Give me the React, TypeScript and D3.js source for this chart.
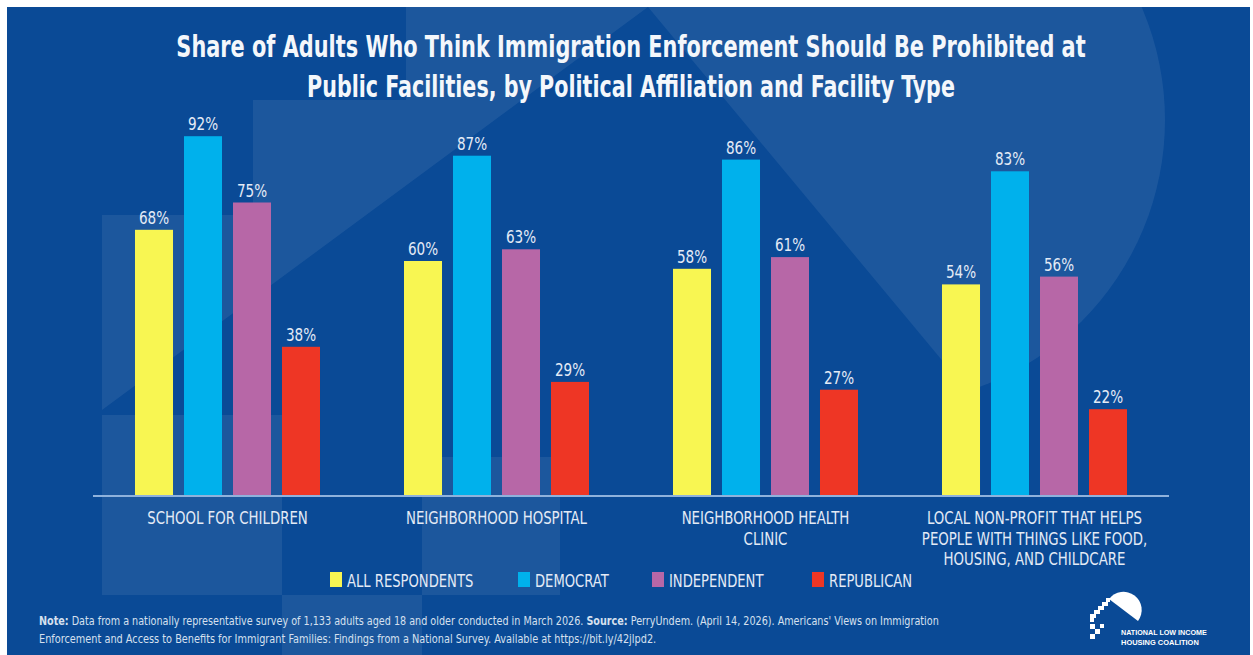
import React, { useLayoutEffect, useRef, useState } from "react";
import * as d3 from "d3";

const categories: string[][] = [
  ["SCHOOL FOR CHILDREN"],
  ["NEIGHBORHOOD HOSPITAL"],
  ["NEIGHBORHOOD HEALTH", "CLINIC"],
  ["LOCAL NON-PROFIT THAT HELPS", "PEOPLE WITH THINGS LIKE FOOD,", "HOUSING, AND CHILDCARE"],
];
const seriesNames = ["ALL RESPONDENTS", "DEMOCRAT", "INDEPENDENT", "REPUBLICAN"];
const allRespondents = [68, 60, 58, 54];
const democrat = [92, 87, 86, 83];
const independent = [75, 63, 61, 56];
const republican = [38, 29, 27, 22];
const seriesColors = ["#f8f652", "#00b1ec", "#b767a7", "#ee3625"];

const titleLines = [
  "Share of Adults Who Think Immigration Enforcement Should Be Prohibited at",
  "Public Facilities, by Political Affiliation and Facility Type",
];

const W = 1253;
const H = 655;
const NARROW = "'Liberation Sans Narrow', 'DejaVu Sans Condensed', 'Arial Narrow', sans-serif";
const TEXT = "#e4ebf6";

function CText(props: {
  x: number; y: number; size: number; sx?: number; anchor?: string; weight?: string | number;
  fill?: string; family?: string; children: React.ReactNode;
}) {
  const { x, y, size, sx = 0.82, anchor = "middle", weight = "normal", fill = TEXT, family = NARROW } = props;
  return (
    <text
      transform={`translate(${x},${y}) scale(${sx},1)`}
      textAnchor={anchor as any}
      fontSize={size}
      fontWeight={weight as any}
      fill={fill}
      fontFamily={family}
    >
      {props.children}
    </text>
  );
}

function FitText(props: {
  x: number; y: number; width: number; size: number; anchor?: string; weight?: string | number;
  fill?: string; family?: string; children: React.ReactNode;
}) {
  const { x, y, width, size, anchor = "start", weight = "normal", fill = TEXT, family = NARROW } = props;
  const ref = useRef<SVGTextElement>(null);
  const [s, setS] = useState(1);
  useLayoutEffect(() => {
    if (ref.current) {
      const w = ref.current.getComputedTextLength();
      if (w > 0) setS(width / w);
    }
  }, [width]);
  return (
    <text
      ref={ref}
      transform={`translate(${x},${y}) scale(${s},1)`}
      textAnchor={anchor as any}
      fontSize={size}
      fontWeight={weight as any}
      fill={fill}
      fontFamily={family}
    >
      {props.children}
    </text>
  );
}

export default function App() {
  const series = [allRespondents, democrat, independent, republican];
  const catIds = categories.map((_, i) => String(i));

  const x0 = d3.scaleBand<string>().domain(catIds).range([93, 1169]).padding(0);
  const x1 = d3
    .scaleBand<string>()
    .domain(seriesNames)
    .range([0, x0.bandwidth()])
    .paddingInner(0.224)
    .paddingOuter(0.857);
  const y = d3.scaleLinear().domain([0, 100]).range([495, 105]);

  const legendX = [330, 518, 652, 812];

  const light = "rgba(255,255,255,0.075)";
  const roof = [
    [102, 215], [253, 215], [253, 100], [406, 100], [406, 7], [648, 7], [102, 410],
  ];
  const line = d3.line();

  return (
    <svg width={W} height={H} style={{ position: "absolute", left: 0, top: 0, display: "block" }}>
      <rect x={0} y={0} width={W} height={H} fill="#ffffff" />
      <rect x={7} y={7} width={1243} height={648} fill="#0a4a96" />
      <defs>
        <clipPath id="bgclip">
          <rect x={7} y={7} width={1243} height={648} />
        </clipPath>
        <clipPath id="domeclip">
          <polygon points="648,7 1000,430 1300,430 1300,-300 400,-300" />
        </clipPath>
      </defs>
      <g clipPath="url(#bgclip)">
        <path d={line(roof as any) + "Z"} fill={light} />
        <g clipPath="url(#domeclip)">
          <circle cx={880} cy={120} r={285} fill={light} />
        </g>
        <rect x={102} y={415} width={180} height={180} fill={light} />
        <rect x={282} y={595} width={140} height={60} fill={light} />
        <rect x={422} y={457} width={138} height={138} fill={light} />
      </g>

      {titleLines.map((t, i) => (
        <FitText
          key={i}
          x={631}
          y={57 + i * 40}
          anchor="middle"
          weight="bold"
          size={30}
          fill="#f4f7fb"
          width={i === 0 ? 910 : 648}
        >
          {t}
        </FitText>
      ))}

      {categories.map((cat, ci) => (
        <g key={ci} transform={`translate(${x0(String(ci))},0)`}>
          {seriesNames.map((s, si) => {
            const v = series[si][ci];
            const bx = x1(s)!;
            return (
              <g key={s}>
                <rect x={bx} y={y(v)} width={x1.bandwidth()} height={y(0) - y(v)} fill={seriesColors[si]} />
                <CText x={bx + x1.bandwidth() / 2} y={y(v) - 6} size={18} sx={0.84}>
                  {v}%
                </CText>
              </g>
            );
          })}
        </g>
      ))}

      <line x1={93} x2={1169} y1={y(0) + 1} y2={y(0) + 1} stroke="#8fb2dc" strokeWidth={2} />

      {categories.map((lines, ci) =>
        lines.map((l, li) => (
          <CText
            key={ci + "-" + li}
            x={x0(String(ci))! + x0.bandwidth() / 2}
            y={524 + li * 20.5}
            size={18.5}
            sx={0.8}
          >
            {l}
          </CText>
        ))
      )}

      {seriesNames.map((s, si) => (
        <g key={s}>
          <rect x={legendX[si]} y={572} width={12} height={15} fill={seriesColors[si]} />
          <CText x={legendX[si] + 17} y={587} size={18.5} sx={0.79} anchor="start">
            {s}
          </CText>
        </g>
      ))}

      <FitText x={39} y={625} size={12} fill="#d6e0ef" width={901}>
        <tspan fontWeight="bold">Note:</tspan> Data from a nationally representative survey of 1,133 adults aged 18 and older conducted in March 2026.{" "}
        <tspan fontWeight="bold">Source:</tspan> PerryUndem. (April 14, 2026). Americans' Views on Immigration
      </FitText>
      <FitText x={39} y={643} size={12} fill="#d6e0ef" width={618}>
        Enforcement and Access to Benefits for Immigrant Families: Findings from a National Survey. Available at https://bit.ly/42jlpd2.
      </FitText>

      <g fill="#ffffff">
        <path d="M1109,599 A18.2,18.2 0 1,1 1138,621 Z" />
        <path
          d="M1090,618 L1090,614 L1094,614 L1094,610 L1098,610 L1098,606 L1102,606 L1102,602 L1106,602 L1106,598 L1110,598 L1110,602 L1108,602 L1108,606 L1104,606 L1104,610 L1100,610 L1100,614 L1096,614 L1096,618 L1094,618 L1094,622 L1090,622 Z"
        />
        <rect x={1090} y={624} width={5} height={5} />
        <rect x={1095} y={629} width={5} height={5} />
        <rect x={1090} y={634} width={5} height={5} />
        <rect x={1100} y={624} width={4} height={4} />
      </g>
      <FitText x={1121} y={635} size={7} weight="bold" fill="#ffffff" family="'Liberation Sans', Arial, sans-serif" width={86}>
        NATIONAL LOW INCOME
      </FitText>
      <FitText x={1121} y={645} size={7} weight="bold" fill="#ffffff" family="'Liberation Sans', Arial, sans-serif" width={78}>
        HOUSING COALITION
      </FitText>
    </svg>
  );
}
